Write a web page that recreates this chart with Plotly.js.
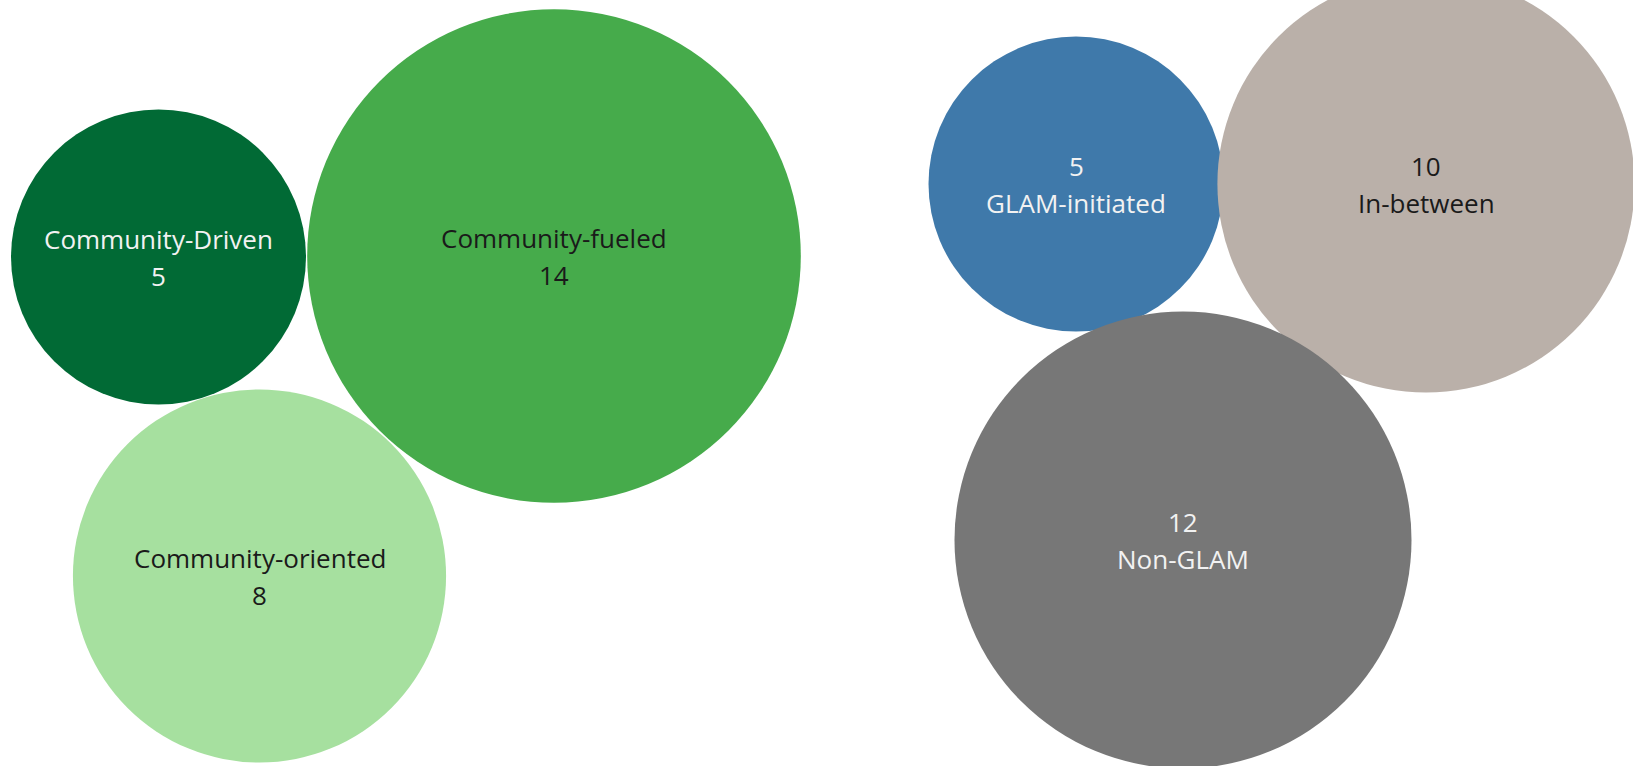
<!DOCTYPE html>
<html>
<head>
<meta charset="utf-8">
<script src="https://cdn.plot.ly/plotly-3.0.1.min.js"></script>
<style>html,body{margin:0;padding:0;background:#fff;}#chart{width:1633px;height:766px;}</style>
</head>
<body>
<div id="chart"></div>
<script>
// Data
const categories = ["Community-Driven", "Community-fueled", "Community-oriented", "GLAM-initiated", "In-between", "Non-GLAM"];
const counts = [5, 14, 8, 5, 10, 12];
const group = ["community", "community", "community", "glam", "glam", "glam"];

// Layout of packed bubbles (pixel centres)
const bubbleX = [158.5, 554, 259.5, 1076, 1426, 1183];
const bubbleY = [257, 256, 576, 184, 184, 540];
const colors = ["#016a35", "#46ab4b", "#a6e09f", "#3f79aa", "#bab0a9", "#777777"];
const textColors = ["#f2f2f2", "#1a1a1a", "#1a1a1a", "#f2f2f2", "#1a1a1a", "#f2f2f2"];

// area mode: radius = sqrt(size/2/sizeref); radius 147.5 px for value 5
const sizeref = 2.5 / (147.5 * 147.5);

const trace = {
  type: "scatter",
  mode: "markers",
  x: bubbleX,
  y: bubbleY,
  text: categories,
  marker: {
    size: counts,
    sizemode: "area",
    sizeref: sizeref,
    color: colors,
    opacity: 1,
    line: {width: 0}
  },
  hoverinfo: "text",
  cliponaxis: false
};

const font = {family: "Open Sans, Noto Sans, sans-serif", size: 26};
const annotations = [];
categories.forEach((c, i) => {
  const top = group[i] === "community" ? c : String(counts[i]);
  const bottom = group[i] === "community" ? String(counts[i]) : c;
  annotations.push({x: bubbleX[i], y: bubbleY[i], xref: "x", yref: "y", text: top, showarrow: false,
    yshift: 18.5, font: Object.assign({}, font, {color: textColors[i]})});
  annotations.push({x: bubbleX[i], y: bubbleY[i], xref: "x", yref: "y", text: bottom, showarrow: false,
    yshift: -18.5, font: Object.assign({}, font, {color: textColors[i]})});
});

const layout = {
  width: 1633,
  height: 766,
  margin: {l: 0, r: 0, t: 0, b: 0},
  paper_bgcolor: "#ffffff",
  plot_bgcolor: "#ffffff",
  showlegend: false,
  xaxis: {range: [0, 1633], visible: false, fixedrange: true},
  yaxis: {range: [766, 0], visible: false, fixedrange: true},
  annotations: annotations
};

Plotly.newPlot("chart", [trace], layout, {displayModeBar: false, staticPlot: true});
</script>
</body>
</html>
